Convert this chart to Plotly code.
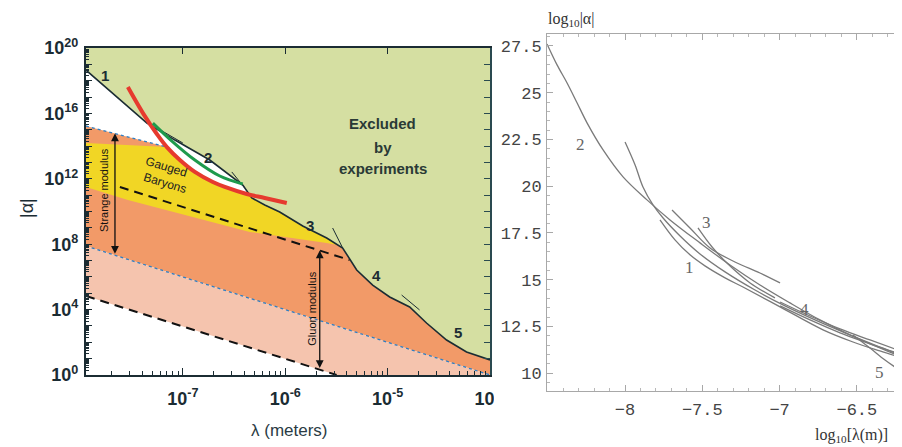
import numpy as np
import plotly.graph_objects as go

# page body has an 8px margin: the figure is laid out in reference pixels minus that offset
OFF = 8
FW, FH = 902 - OFF, 447 - OFF


def fx(x):
    return (x - OFF) / FW


def fy(y):
    return 1 - (y - OFF) / FH


# ================= LEFT PANEL DATA (log10 lambda [m], log10 |alpha|) =================
LAM_RANGE = [-7.946, -4.0]
ALPHA_RANGE = [0.0, 20.0]

# experimental exclusion boundary (curves 1..5)
BOUND_LOGLAM = [-7.946, -7.810, -7.615, -7.351, -7.078, -6.737, -6.415, -6.327, -6.200, -6.054,
                -5.829, -5.595, -5.439, -5.302, -5.146, -4.980, -4.785, -4.620, -4.424, -4.229, -4.0]
BOUND_LOGA = [18.65, 17.92, 16.82, 15.41, 14.37, 13.15, 11.62, 10.83, 10.40, 9.97,
              9.11, 8.38, 7.77, 6.42, 5.50, 4.77, 4.16, 3.18, 2.14, 1.41, 0.92]

# red curve
RED_LOGLAM = [-7.537, -7.390, -7.254, -7.156, -7.029, -6.883, -6.707, -6.590, -6.376, -6.200, -5.985]
RED_LOGA = [17.61, 16.02, 14.74, 13.94, 13.15, 12.42, 11.80, 11.50, 11.07, 10.83, 10.52]

# green curve
GRN_LOGLAM = [-7.293, -7.107, -6.883, -6.639, -6.415]
GRN_LOGA = [15.41, 14.31, 13.15, 12.17, 11.68]

# strange modulus band limits (blue dotted)
BLUE_UP_LOGLAM = [-7.946, -7.156]
BLUE_UP_LOGA = [15.23, 13.94]
BLUE_LOW_LOGLAM = [-7.946, -4.0]
BLUE_LOW_LOGA = [7.89, 0.0]

# gauged baryons (yellow) band
YEL_TOP_LOGLAM = [-7.946, -7.156]
YEL_TOP_LOGA = [14.19, 13.94]
YEL_BOT_LOGLAM = [-7.946, -7.537, -7.029, -6.346, -5.595, -5.488]
YEL_BOT_LOGA = [11.50, 10.70, 9.85, 8.75, 8.07, 7.95]

# gluon modulus dashed limits
DASH_UP_LOGLAM = [-7.615, -5.371]
DASH_UP_LOGA = [11.50, 7.03]
DASH_LOW_LOGLAM = [-7.946, -5.498]
DASH_LOW_LOGA = [4.83, 0.0]

# short tangent marks at the joins of the curves
TAN_LOGLAM = [[-7.254, -7.0], [-6.522, -6.395], [-5.537, -5.439], [-4.863, -4.688]]
TAN_LOGA = [[15.11, 14.19], [12.42, 11.44], [8.99, 7.77], [4.89, 3.98]]

CURVE_LABELS = ["1", "2", "3", "4", "5"]
CURVE_LBL_LOGLAM = [-7.761, -6.756, -5.761, -5.107, -4.317]
CURVE_LBL_LOGA = [18.29, 13.33, 9.17, 6.06, 2.57]

STRANGE_ARROW = (-7.663, 7.32, 14.77)
GLUON_ARROW = (-5.663, 0.33, 7.61)

X_MAJOR_EXP = [-7, -6, -5, -4]
Y_LABEL_EXP = [0, 4, 8, 12, 16, 20]

# ================= RIGHT PANEL DATA (log10 lambda, log10 |alpha|) =================
R_XRANGE = [-8.505, -6.208]
R_YRANGE = [9.05, 28.14]
R_XTICKS = [-8, -7.5, -7, -6.5]
R_XTICKTEXT = ["\u22128", "\u22127.5", "\u22127", "\u22126.5"]
R_YTICKS = [10, 12.5, 15, 17.5, 20, 22.5, 25, 27.5]
R_YTICKTEXT = ["10", "12.5", "15", "17.5", "20", "22.5", "25", "27.5"]

RC2_X = [-8.505, -8.440, -8.375, -8.310, -8.246, -8.142, -8.013, -7.858, -7.709, -7.515, -7.321,
         -7.127, -6.933, -6.739, -6.545, -6.351, -6.208]
RC2_Y = [27.61, 26.49, 25.52, 24.45, 23.39, 21.94, 20.50, 19.27, 18.20, 16.97, 15.79,
         14.72, 13.76, 12.85, 12.05, 11.35, 10.87]
RCB_X = [-8.0, -7.935, -7.884, -7.819, -7.754, -7.644, -7.515, -7.353, -7.159, -6.965, -6.771,
         -6.577, -6.383, -6.208]
RCB_Y = [22.37, 21.14, 19.96, 19.00, 18.30, 17.34, 16.38, 15.42, 14.45, 13.60, 12.85,
         12.16, 11.51, 10.98]
RC1_X = [-7.774, -7.677, -7.580, -7.483, -7.353, -7.237, -6.997, -6.719, -6.525, -6.351, -6.208]
RC1_Y = [18.20, 17.13, 16.33, 15.74, 15.10, 14.61, 13.55, 12.32, 11.67, 11.19, 10.82]
RC3_X = [-7.696, -7.580, -7.450, -7.289, -7.127, -6.997]
RC3_Y = [18.73, 17.77, 16.70, 15.95, 15.36, 14.83]
RC3B_X = [-7.528, -7.437, -7.334, -7.191, -7.030]
RC3B_Y = [17.77, 16.75, 15.84, 14.83, 14.03]
RC4_X = [-6.997, -6.803, -6.609, -6.415, -6.254]
RC4A_Y = [13.81, 13.06, 12.37, 11.78, 11.30]
RC4B_Y = [13.60, 12.85, 12.16, 11.57, 11.09]
RC5_X = [-6.525, -6.415, -6.318, -6.208]
RC5_Y = [12.05, 11.35, 10.71, 10.07]

R_LABELS = ["2", "1", "3", "4", "5"]
R_LBL_X = [-8.291, -7.580, -7.470, -6.836, -6.351]
R_LBL_Y = [22.21, 15.68, 18.04, 13.39, 10.02]

# ================= STYLE =================
DARK = "#1b2c33"
GREEN_FILL = "#d5dfa2"
ORANGE = "#f29a68"
PINK = "#f5c4ae"
YELLOW = "#f1d625"
RED = "#e63a2e"
GREEN_LINE = "#1e9a4c"
BLUE_DOT = "#2f7fc4"
GRAY = "#7a7a7a"
SANS = "Liberation Sans, Arial, sans-serif"
SERIF = "Liberation Serif, Times New Roman, serif"
MONO = "Liberation Mono, Courier New, monospace"


def p(u):
    return [10.0 ** x for x in u]


fig = go.Figure()


def poly(u, v, color):
    fig.add_trace(go.Scatter(x=p(u), y=p(v), mode="lines", fill="toself", fillcolor=color,
                             line=dict(width=0), hoverinfo="skip", showlegend=False,
                             xaxis="x", yaxis="y"))


def line(u, v, color, width, dash="solid", shape="linear"):
    fig.add_trace(go.Scatter(x=p(u), y=p(v), mode="lines",
                             line=dict(color=color, width=width, dash=dash, shape=shape),
                             hoverinfo="skip", showlegend=False, xaxis="x", yaxis="y"))


bu, bv = list(BOUND_LOGLAM), list(BOUND_LOGA)
ru, rv = np.array(RED_LOGLAM), np.array(RED_LOGA)
mask = ru >= BLUE_UP_LOGLAM[-1] - 1e-9
red_tail_u, red_tail_v = list(ru[mask]), list(rv[mask])
top = ALPHA_RANGE[1]

# orange: strange-modulus band below the experimental bound
poly(bu + BLUE_LOW_LOGLAM[::-1], bv + BLUE_LOW_LOGA[::-1], ORANGE)
# pink: gluon band below the strange band
poly(BLUE_LOW_LOGLAM + DASH_LOW_LOGLAM[::-1], BLUE_LOW_LOGA + DASH_LOW_LOGA[::-1], PINK)
# white wedge above the blue dotted line / red curve
poly([LAM_RANGE[0]] + BLUE_UP_LOGLAM + red_tail_u + [red_tail_u[-1]],
     [top] + BLUE_UP_LOGA + red_tail_v + [top], "white")
# yellow gauged-baryon band
poly(YEL_TOP_LOGLAM + red_tail_u + YEL_BOT_LOGLAM[::-1],
     YEL_TOP_LOGA + red_tail_v + YEL_BOT_LOGA[::-1], YELLOW)
# green excluded region
poly(bu + [LAM_RANGE[1], LAM_RANGE[0]], bv + [top, top], GREEN_FILL)

line(BLUE_UP_LOGLAM, BLUE_UP_LOGA, BLUE_DOT, 1.3, "dot")
line(BLUE_LOW_LOGLAM, BLUE_LOW_LOGA, BLUE_DOT, 1.3, "dot")
line(DASH_UP_LOGLAM, DASH_UP_LOGA, "#111111", 2.0, "9px,6px")
line(DASH_LOW_LOGLAM, DASH_LOW_LOGA, "#111111", 2.0, "9px,6px")
line(bu, bv, DARK, 1.6)
for tu, tv in zip(TAN_LOGLAM, TAN_LOGA):
    line(tu, tv, DARK, 1.0)
line(RED_LOGLAM, RED_LOGA, RED, 4.0, shape="spline")
line(GRN_LOGLAM, GRN_LOGA, GREEN_LINE, 3.0, shape="spline")

# helper trace for the mirrored (top/right) axes
fig.add_trace(go.Scatter(x=[1e-6], y=[1e10], mode="markers", marker=dict(opacity=0),
                         hoverinfo="skip", showlegend=False, xaxis="x3", yaxis="y3"))


# ---------------- right panel curves ----------------
def rline(x, y):
    fig.add_trace(go.Scatter(x=x, y=y, mode="lines",
                             line=dict(color=GRAY, width=1.3, shape="spline", smoothing=1.0),
                             hoverinfo="skip", showlegend=False, xaxis="x2", yaxis="y2"))


rline(RC2_X, RC2_Y)
rline(RCB_X, RCB_Y)
rline(RC1_X, RC1_Y)
rline(RC3_X, RC3_Y)
rline(RC3B_X, RC3B_Y)
rline(RC4_X, RC4A_Y)
rline(RC4_X, RC4B_Y)
rline(RC5_X, RC5_Y)

# ---------------- ticks ----------------
x_major = [10.0 ** e for e in X_MAJOR_EXP]
x_text = ["10<sup>%d</sup>" % e for e in X_MAJOR_EXP]
x_minor = [m * 10.0 ** e for e in range(-8, -4) for m in range(2, 10)
           if LAM_RANGE[0] <= np.log10(m * 10.0 ** e) <= LAM_RANGE[1]]
y_dec = list(range(int(ALPHA_RANGE[0]), int(ALPHA_RANGE[1]) + 1))
y_major = [10.0 ** e for e in y_dec]
y_text = [("10<sup>%d</sup>" % e) if e in Y_LABEL_EXP else "" for e in y_dec]
y_minor = [m * 10.0 ** e for e in y_dec[:-1] for m in range(2, 10)]

tickfont_l = dict(family=SANS, size=18, color=DARK, weight="bold")

fig.update_layout(
    width=FW, height=FH, margin=dict(l=0, r=0, t=0, b=0, autoexpand=False),
    paper_bgcolor="white", plot_bgcolor="white", showlegend=False,
    xaxis=dict(domain=[fx(86), fx(490)], type="log", range=LAM_RANGE, anchor="y",
               automargin=False,
               showline=True, linecolor=DARK, linewidth=2.2, showgrid=False, zeroline=False,
               ticks="inside", ticklen=7, tickwidth=1.2, tickcolor=DARK,
               tickmode="array", tickvals=x_major, ticktext=x_text, tickfont=tickfont_l,
               ticklabelstandoff=6,
               minor=dict(ticks="inside", ticklen=4, tickwidth=1, tickcolor=DARK,
                          tickmode="array", tickvals=x_minor)),
    yaxis=dict(domain=[fy(375), fy(48)], type="log", range=[-0.001, 20.001], anchor="x",
               automargin=False,
               showline=True, linecolor=DARK, linewidth=2.4, showgrid=False, zeroline=False,
               ticks="inside", ticklen=6, tickwidth=1.2, tickcolor=DARK,
               tickmode="array", tickvals=y_major, ticktext=y_text, tickfont=tickfont_l,
               ticklabelstandoff=2,
               minor=dict(ticks="inside", ticklen=3, tickwidth=1, tickcolor=DARK,
                          tickmode="array", tickvals=y_minor)),
    xaxis3=dict(overlaying="x", side="top", anchor="y3", type="log", range=LAM_RANGE,
                automargin=False,
                showline=True, linecolor=DARK, linewidth=1.6, showgrid=False, zeroline=False,
                ticks="inside", ticklen=6, tickcolor=DARK, tickmode="array", tickvals=x_major,
                showticklabels=False),
    yaxis3=dict(overlaying="y", side="right", anchor="x3", type="log", range=[-0.001, 20.001],
                automargin=False,
                showline=True, linecolor="#2a4a50", linewidth=2, showgrid=False, zeroline=False,
                ticks="inside", ticklen=6, tickcolor="#2a4a50", tickmode="array",
                tickvals=y_major, showticklabels=False),
    xaxis2=dict(domain=[fx(547), 1.0], anchor="y2", range=R_XRANGE, showline=True,
                automargin=False,
                linecolor="#a8a8a8", linewidth=1, mirror="ticks", showgrid=False, zeroline=False,
                ticks="inside", ticklen=6, tickcolor="#a8a8a8", tickmode="array",
                tickvals=R_XTICKS, ticktext=R_XTICKTEXT,
                tickfont=dict(family=MONO, size=17, color="#444444"), ticklabelstandoff=3,
                minor=dict(ticks="inside", ticklen=3, tickcolor="#b8b8b8", dtick=0.1)),
    yaxis2=dict(domain=[fy(391), fy(34)], anchor="x2", range=R_YRANGE, showline=True,
                automargin=False,
                linecolor="#a8a8a8", linewidth=1, mirror="ticks", showgrid=False, zeroline=False,
                ticks="inside", ticklen=6, tickcolor="#a8a8a8", tickmode="array",
                tickvals=R_YTICKS, ticktext=R_YTICKTEXT,
                tickfont=dict(family=MONO, size=17, color="#444444"), ticklabelstandoff=1,
                minor=dict(ticks="inside", ticklen=3, tickcolor="#b8b8b8", dtick=0.5)),
)

ann = []
for t, u, v in zip(CURVE_LABELS, CURVE_LBL_LOGLAM, CURVE_LBL_LOGA):
    ann.append(dict(x=u, y=v, xref="x", yref="y", text=t, showarrow=False,
                    font=dict(family=SANS, size=15, color=DARK, weight="bold")))
for t, v in zip(["Excluded", "by", "experiments"], [15.41, 13.94, 12.60]):
    ann.append(dict(x=-5.049, y=v, xref="x", yref="y", text=t, showarrow=False,
                    font=dict(family=SANS, size=15, color="#2a3a36", weight="bold")))
ann.append(dict(x=-7.156, y=12.72, xref="x", yref="y", text="Gauged", showarrow=False,
                textangle=17, font=dict(family=SANS, size=12, color="#222222")))
ann.append(dict(x=-7.176, y=11.74, xref="x", yref="y", text="Baryons", showarrow=False,
                textangle=17, font=dict(family=SANS, size=12, color="#222222")))
ann.append(dict(x=-7.771, y=11.31, xref="x", yref="y", text="Strange modulus", showarrow=False,
                textangle=-90, font=dict(family=SANS, size=11, color="#111111")))
ann.append(dict(x=-5.741, y=4.04, xref="x", yref="y", text="Gluon modulus", showarrow=False,
                textangle=-90, font=dict(family=SANS, size=11, color="#111111")))
for (u, v0, v1) in [STRANGE_ARROW, GLUON_ARROW]:
    ann.append(dict(x=u, y=v1, ax=u, ay=v0, xref="x", yref="y", axref="x", ayref="y",
                    text="", showarrow=True, arrowhead=2, startarrowhead=2,
                    arrowside="end+start", arrowsize=1.2, startarrowsize=1.2,
                    arrowwidth=1.3, arrowcolor="#111111"))


def paper_text(x, y, text, font, angle=0):
    ann.append(dict(x=fx(x), y=fy(y), xref="paper", yref="paper", text=text,
                    xanchor="center", yanchor="middle", showarrow=False,
                    textangle=angle, font=font))


paper_text(27, 208, "|\u03b1|", dict(family=SANS, size=18, color=DARK), angle=-90)
paper_text(289, 430, "\u03bb (meters)", dict(family=SANS, size=17, color="#2a3b44"))
paper_text(571, 20, "log<sub>10</sub>|\u03b1|", dict(family=SERIF, size=16, color="#333333"))
paper_text(851, 435, "log<sub>10</sub>[\u03bb(m)]", dict(family=SERIF, size=16, color="#333333"))
for t, x, y in zip(R_LABELS, R_LBL_X, R_LBL_Y):
    ann.append(dict(x=x, y=y, xref="x2", yref="y2", text=t, showarrow=False,
                    font=dict(family=SERIF, size=17, color="#666666")))
fig.update_layout(annotations=ann)

# the right-hand image hides most of the last left-panel tick label
fig.add_shape(type="rect", xref="paper", yref="paper", x0=fx(494), x1=fx(522),
              y0=fy(418), y1=fy(382), fillcolor="white", line=dict(width=0),
              layer="above")

fig.write_html("out.html")
